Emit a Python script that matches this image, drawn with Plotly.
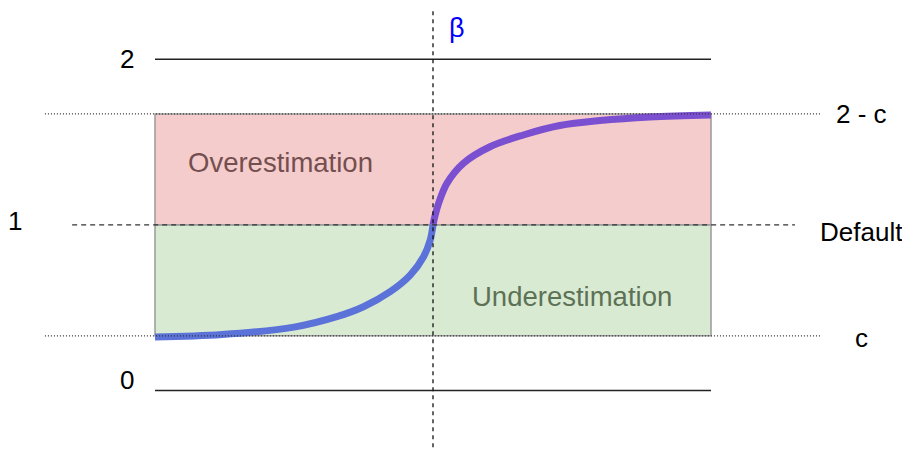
import plotly.graph_objects as go

# levels on the beta scale
level_names = ['2', '2 - c', 'Default', 'c', '0']
level_values = [2.0, 1.67, 1.0, 0.33, 0.0]

# curve (x: 0..1 across the box, y: beta value)
lower_x = [0.0, 0.1205, 0.25, 0.327, 0.375, 0.423, 0.459, 0.483, 0.495, 0.5]
lower_y = [0.323, 0.338, 0.383, 0.446, 0.506, 0.597, 0.697, 0.808, 0.909, 1.0]
upper_x = [0.5, 0.504, 0.51, 0.525, 0.5545, 0.6025, 0.6625, 0.728, 0.8, 0.89, 1.0]
upper_y = [1.0, 1.06, 1.13, 1.251, 1.372, 1.472, 1.543, 1.6, 1.63, 1.652, 1.664]

y_top, y_2c, y_def, y_c, y_bot = level_values

fig = go.Figure()

shapes = []
# coloured regions
shapes.append(dict(type='rect', x0=0, x1=1, y0=y_def, y1=y_2c, fillcolor='#f4cccc',
                   line=dict(color='#9a9a9a', width=1.5), layer='below'))
shapes.append(dict(type='rect', x0=0, x1=1, y0=y_c, y1=y_def, fillcolor='#d9ead3',
                   line=dict(color='#9a9a9a', width=1.5), layer='below'))
# solid lines at 2 and 0
for yv in (y_top, y_bot):
    shapes.append(dict(type='line', x0=0, x1=1, y0=yv, y1=yv,
                       line=dict(color='#222222', width=1.5)))
# dotted lines at 2-c and c
for yv in (y_2c, y_c):
    shapes.append(dict(type='line', x0=-0.198, x1=1.196, y0=yv, y1=yv,
                       line=dict(color='#333333', width=1.2, dash='1px,2px')))
# dashed default line
shapes.append(dict(type='line', x0=-0.149, x1=1.151, y0=y_def, y1=y_def,
                   line=dict(color='#333333', width=1.3, dash='5px,4px')))
# vertical dashed line
shapes.append(dict(type='line', x0=0.5, x1=0.5, y0=-0.343, y1=2.34,
                   line=dict(color='#111111', width=1.3, dash='4px,4px')))

fig.add_trace(go.Scatter(x=lower_x, y=lower_y, mode='lines',
                         line=dict(color='#5b72d8', width=7, shape='spline', smoothing=1),
                         hoverinfo='skip'))
fig.add_trace(go.Scatter(x=upper_x, y=upper_y, mode='lines',
                         line=dict(color='#7a4fd0', width=7, shape='spline', smoothing=1),
                         hoverinfo='skip'))

font = 'Liberation Sans, Arial, sans-serif'
annotations = [
    dict(x=-0.05, y=2.0, text='2'),
    dict(x=-0.252, y=1.025, text='1'),
    dict(x=-0.05, y=0.063, text='0'),
    dict(x=1.27, y=y_2c, text='2 - c'),
    dict(x=1.27, y=0.955, text='Default'),
    dict(x=1.27, y=0.32, text='c'),
]
for a in annotations:
    a.update(xref='x', yref='y', showarrow=False,
             font=dict(family=font, size=26, color='#000000'))
annotations.append(dict(x=0.543, y=2.19, text='β', xref='x', yref='y', showarrow=False,
                        font=dict(family=font, size=27, color='#0000ff')))
annotations.append(dict(x=0.225, y=1.374, text='Overestimation', xref='x', yref='y',
                        showarrow=False, font=dict(family=font, size=27.5, color='#744f4f')))
annotations.append(dict(x=0.75, y=0.565, text='Underestimation', xref='x', yref='y',
                        showarrow=False, font=dict(family=font, size=27.5, color='#5d7255')))

# the page body has an 8px margin, so the figure covers pixels 8..910 x 8..451
fig.update_layout(
    width=902, height=443,
    margin=dict(l=0, r=0, t=0, b=0),
    paper_bgcolor='white', plot_bgcolor='white',
    showlegend=False,
    shapes=shapes,
    annotations=annotations,
    xaxis=dict(range=[-0.2644, 1.3579], visible=False, fixedrange=True),
    yaxis=dict(range=[-0.3653, 2.3098], visible=False, fixedrange=True),
)

fig.write_html('out.html')
